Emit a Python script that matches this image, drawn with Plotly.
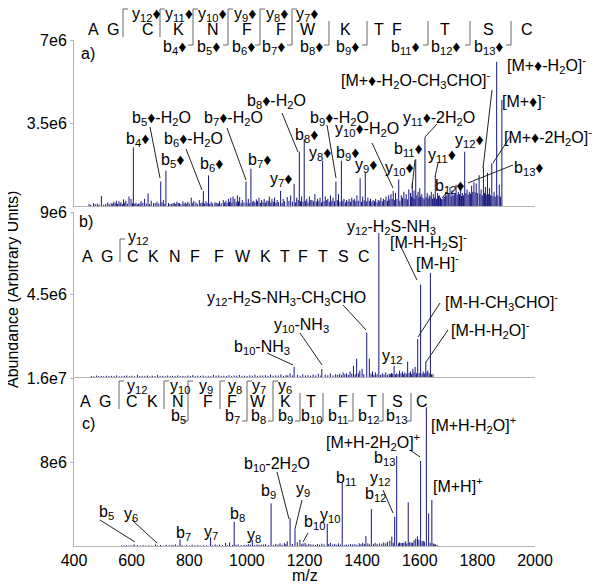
import plotly.graph_objects as go

# ---------------- data (m/z, abundance) ----------------
# panel a) : labelled / prominent peaks
a_mz = [495, 591, 606, 657, 701, 719, 807, 849, 867, 967, 997, 1014, 1117, 1140, 1164,
        1182, 1199, 1263, 1309, 1328, 1393, 1411, 1508, 1527, 1574, 1586, 1618, 1654,
        1676, 1756, 1806, 1821, 1835, 1850, 1867, 1885]
a_int = [0.42e6, 0.40e6, 2.47e6, 0.53e6, 1.03e6, 1.49e6, 0.35e6, 0.63e6, 1.29e6, 0.45e6,
         1.03e6, 1.57e6, 0.64e6, 0.38e6, 0.93e6, 2.29e6, 2.83e6, 1.91e6, 1.03e6, 1.91e6,
         1.17e6, 1.41e6, 0.63e6, 1.12e6, 0.98e6, 1.97e6, 2.90e6, 1.24e6, 0.30e6, 2.29e6,
         1.30e6, 1.63e6, 1.40e6, 1.80e6, 6.08e6, 4.47e6]
# panel a) : minor peaks
a_minor_mz = [452, 468, 481, 503, 517, 529, 538, 547, 556, 563, 572, 580, 598, 615, 624, 633,
              645, 668, 676, 688, 710, 728, 739, 748, 757, 766, 778, 786, 795, 816, 823, 835,
              858, 876, 889, 897, 905, 918, 927, 936, 944, 952, 958, 975, 984, 1005, 1024,
              1033, 1042, 1051, 1060, 1069, 1078, 1087, 1096, 1105, 1126, 1152, 1173, 1190,
              1208, 1217, 1226, 1236, 1245, 1254, 1272, 1281, 1290, 1299, 1318, 1337, 1346,
              1355, 1364, 1373, 1382, 1402, 1420, 1429, 1438, 1447, 1456, 1465, 1474, 1483,
              1492, 1500, 1516, 1536, 1545, 1553, 1562, 1568, 1580, 1594, 1600, 1607, 1626,
              1633, 1640, 1647, 1662, 1668, 1684, 1690, 1698, 1705, 1712, 1720, 1726, 1734,
              1742, 1748, 1764, 1772, 1780, 1788, 1796, 1813, 1828, 1842, 1858, 1876]
a_minor_int = [0.08e6, 0.12e6, 0.10e6, 0.06e6, 0.15e6, 0.12e6, 0.18e6, 0.22e6, 0.20e6, 0.16e6,
               0.28e6, 0.22e6, 0.30e6, 0.14e6, 0.10e6, 0.20e6, 0.30e6, 0.22e6, 0.12e6, 0.18e6,
               0.25e6, 0.12e6, 0.10e6, 0.14e6, 0.18e6, 0.12e6, 0.20e6, 0.15e6, 0.18e6, 0.22e6,
               0.15e6, 0.25e6, 0.20e6, 0.18e6, 0.15e6, 0.12e6, 0.20e6, 0.25e6, 0.22e6, 0.30e6,
               0.35e6, 0.40e6, 0.30e6, 0.38e6, 0.25e6, 0.30e6, 0.22e6, 0.28e6, 0.35e6, 0.25e6,
               0.30e6, 0.22e6, 0.40e6, 0.30e6, 0.35e6, 0.25e6, 0.30e6, 0.45e6, 0.35e6, 0.40e6,
               0.30e6, 0.40e6, 0.25e6, 0.50e6, 0.30e6, 0.35e6, 0.40e6, 0.30e6, 0.45e6, 0.35e6,
               0.50e6, 0.30e6, 0.25e6, 0.30e6, 0.35e6, 0.30e6, 0.45e6, 0.40e6, 0.35e6, 0.30e6,
               0.25e6, 0.30e6, 0.25e6, 0.35e6, 0.30e6, 0.40e6, 0.45e6, 0.50e6, 0.55e6, 0.45e6,
               0.60e6, 0.50e6, 0.70e6, 0.55e6, 0.65e6, 0.60e6, 0.75e6, 0.50e6, 0.55e6, 0.45e6,
               0.60e6, 0.50e6, 0.55e6, 0.45e6, 0.40e6, 0.60e6, 0.55e6, 0.80e6, 0.65e6, 0.50e6,
               0.90e6, 0.60e6, 0.75e6, 0.55e6, 0.70e6, 0.60e6, 0.85e6, 1.00e6, 0.95e6, 0.70e6,
               0.80e6, 0.75e6, 0.60e6, 0.90e6]
# panel a) : baseline clutter
a_floor_mz = [458, 474, 487, 510, 522, 533, 543, 551, 560, 568,
              576, 585, 603, 611, 620, 629, 639, 651, 662, 682,
              694, 705, 715, 733, 744, 753, 762, 771, 782, 791,
              800, 812, 828, 840, 845, 853, 862, 871, 881, 893,
              901, 911, 922, 931, 940, 948, 963, 971, 980, 990,
              1000, 1010, 1019, 1028, 1037, 1047, 1056, 1065, 1074, 1083,
              1092, 1101, 1110, 1122, 1131, 1146, 1158, 1169, 1178, 1186,
              1195, 1204, 1212, 1222, 1231, 1241, 1250, 1259, 1268, 1277,
              1286, 1295, 1304, 1314, 1323, 1333, 1342, 1351, 1360, 1369,
              1378, 1387, 1398, 1407, 1416, 1425, 1434, 1443, 1452, 1461,
              1470, 1479, 1488, 1496, 1504, 1512, 1521, 1531, 1540, 1549,
              1558, 1571, 1577, 1583, 1590, 1597, 1603, 1611, 1615, 1622,
              1629, 1636, 1644, 1651, 1658, 1665, 1672, 1680, 1687, 1694,
              1701, 1709, 1716, 1723, 1730, 1738, 1745, 1752, 1760, 1768,
              1776, 1784, 1792, 1800, 1809, 1817, 1825, 1831, 1839, 1846,
              1854, 1862, 1871, 1880]
a_floor_int = [0.05e6, 0.07e6, 0.06e6, 0.09e6, 0.08e6, 0.10e6, 0.12e6, 0.09e6, 0.11e6, 0.08e6,
               0.14e6, 0.10e6, 0.12e6, 0.09e6, 0.07e6, 0.11e6, 0.13e6, 0.10e6, 0.08e6, 0.12e6,
               0.10e6, 0.15e6, 0.09e6, 0.08e6, 0.11e6, 0.09e6, 0.12e6, 0.08e6, 0.10e6, 0.09e6,
               0.11e6, 0.13e6, 0.09e6, 0.12e6, 0.15e6, 0.10e6, 0.13e6, 0.09e6, 0.11e6, 0.14e6,
               0.10e6, 0.12e6, 0.15e6, 0.13e6, 0.18e6, 0.14e6, 0.16e6, 0.20e6, 0.12e6, 0.15e6,
               0.14e6, 0.12e6, 0.18e6, 0.15e6, 0.20e6, 0.13e6, 0.16e6, 0.14e6, 0.22e6, 0.15e6,
               0.18e6, 0.14e6, 0.16e6, 0.12e6, 0.20e6, 0.22e6, 0.18e6, 0.15e6, 0.25e6, 0.20e6,
               0.18e6, 0.22e6, 0.15e6, 0.25e6, 0.20e6, 0.18e6, 0.22e6, 0.15e6, 0.20e6, 0.25e6,
               0.18e6, 0.22e6, 0.20e6, 0.25e6, 0.18e6, 0.22e6, 0.15e6, 0.20e6, 0.18e6, 0.25e6,
               0.20e6, 0.22e6, 0.18e6, 0.24e6, 0.20e6, 0.22e6, 0.18e6, 0.20e6, 0.16e6, 0.22e6,
               0.20e6, 0.25e6, 0.22e6, 0.28e6, 0.30e6, 0.25e6, 0.30e6, 0.22e6, 0.35e6, 0.30e6,
               0.28e6, 0.40e6, 0.35e6, 0.30e6, 0.45e6, 0.35e6, 0.40e6, 0.35e6, 0.30e6, 0.38e6,
               0.32e6, 0.40e6, 0.30e6, 0.35e6, 0.30e6, 0.42e6, 0.35e6, 0.30e6, 0.38e6, 0.45e6,
               0.50e6, 0.40e6, 0.45e6, 0.55e6, 0.48e6, 0.50e6, 0.42e6, 0.45e6, 0.55e6, 0.48e6,
               0.52e6, 0.60e6, 0.58e6, 0.55e6, 0.50e6, 0.45e6, 0.55e6, 0.48e6, 0.50e6, 0.45e6,
               0.42e6, 0.40e6, 0.45e6, 0.40e6]

# panel b)
b_mz = [1164, 1260, 1370, 1381, 1416, 1425, 1458, 1511, 1558, 1593, 1603, 1621, 1637]
b_int = [0.56e6, 0.43e6, 0.60e6, 1.00e6, 2.42e6, 1.00e6, 7.85e6, 0.61e6, 0.83e6, 2.06e6,
         5.04e6, 0.83e6, 5.68e6]
b_minor_mz = [460, 478, 495, 512, 530, 548, 566, 583, 601, 620, 637, 655, 672, 690, 708, 725,
              742, 760, 778, 795, 812, 830, 848, 866, 884, 902, 920, 938, 956, 974, 992, 1010,
              1028, 1046, 1064, 1082, 1100, 1118, 1136, 1150, 1176, 1194, 1212, 1230, 1248,
              1272, 1290, 1308, 1322, 1334, 1346, 1358, 1392, 1400, 1436, 1446, 1470, 1482,
              1494, 1502, 1520, 1530, 1540, 1548, 1568, 1576, 1584, 1612, 1628, 1646]
b_minor_int = [0.06e6, 0.08e6, 0.05e6, 0.07e6, 0.06e6, 0.09e6, 0.06e6, 0.08e6, 0.07e6, 0.12e6,
               0.06e6, 0.08e6, 0.07e6, 0.10e6, 0.06e6, 0.08e6, 0.07e6, 0.09e6, 0.06e6, 0.08e6,
               0.10e6, 0.07e6, 0.08e6, 0.06e6, 0.12e6, 0.09e6, 0.07e6, 0.10e6, 0.08e6, 0.11e6,
               0.07e6, 0.09e6, 0.12e6, 0.08e6, 0.10e6, 0.13e6, 0.09e6, 0.14e6, 0.10e6, 0.20e6,
               0.12e6, 0.15e6, 0.10e6, 0.14e6, 0.18e6, 0.12e6, 0.20e6, 0.15e6, 0.18e6, 0.25e6,
               0.20e6, 0.30e6, 0.35e6, 0.45e6, 0.30e6, 0.25e6, 0.20e6, 0.25e6, 0.18e6, 0.22e6,
               0.20e6, 0.35e6, 0.30e6, 0.25e6, 0.30e6, 0.45e6, 0.55e6, 0.30e6, 0.35e6, 0.15e6]
b_floor_mz = [469, 486, 503, 521, 539, 557, 575, 592, 610, 628,
              646, 664, 681, 699, 717, 734, 751, 769, 786, 804,
              821, 839, 857, 875, 893, 911, 929, 947, 965, 983,
              1001, 1019, 1037, 1055, 1073, 1091, 1109, 1127, 1142, 1158,
              1185, 1203, 1221, 1239, 1257, 1281, 1299, 1315, 1328, 1340,
              1352, 1364, 1376, 1387, 1406, 1431, 1441, 1452, 1464, 1476,
              1488, 1498, 1506, 1516, 1525, 1535, 1544, 1553, 1563, 1572,
              1580, 1589, 1598, 1608, 1616, 1625, 1633, 1641]
b_floor_int = [0.04e6, 0.05e6, 0.04e6, 0.06e6, 0.05e6, 0.04e6, 0.06e6, 0.05e6, 0.04e6, 0.05e6,
               0.06e6, 0.04e6, 0.05e6, 0.06e6, 0.04e6, 0.05e6, 0.06e6, 0.05e6, 0.04e6, 0.06e6,
               0.05e6, 0.06e6, 0.04e6, 0.05e6, 0.07e6, 0.05e6, 0.06e6, 0.05e6, 0.07e6, 0.06e6,
               0.05e6, 0.07e6, 0.06e6, 0.08e6, 0.06e6, 0.07e6, 0.08e6, 0.06e6, 0.09e6, 0.08e6,
               0.07e6, 0.08e6, 0.07e6, 0.09e6, 0.08e6, 0.10e6, 0.08e6, 0.12e6, 0.10e6, 0.15e6,
               0.12e6, 0.18e6, 0.15e6, 0.20e6, 0.15e6, 0.18e6, 0.12e6, 0.15e6, 0.12e6, 0.14e6,
               0.12e6, 0.15e6, 0.18e6, 0.14e6, 0.16e6, 0.20e6, 0.15e6, 0.18e6, 0.22e6, 0.16e6,
               0.25e6, 0.20e6, 0.22e6, 0.18e6, 0.20e6, 0.25e6, 0.20e6, 0.15e6]

# panel c)
c_mz = [608, 683, 768, 874, 956, 1019, 1084, 1150, 1167, 1184, 1202, 1279, 1331, 1413, 1432,
        1503, 1513, 1520, 1560, 1603, 1623, 1631, 1642]
c_int = [0.15e6, 0.15e6, 0.64e6, 0.83e6, 2.31e6, 0.57e6, 4.06e6, 2.64e6, 1.59e6, 0.60e6,
         0.30e6, 2.10e6, 6.03e6, 0.95e6, 3.52e6, 0.90e6, 2.79e6, 8.57e6, 4.16e6, 8.10e6,
         13.2e6, 3.10e6, 4.38e6]
c_minor_mz = [565, 582, 598, 620, 640, 660, 700, 720, 740, 752, 790, 810, 830, 850, 890, 905,
              926, 940, 970, 990, 1005, 1035, 1050, 1065, 1100, 1115, 1130, 1140, 1175, 1195,
              1215, 1230, 1245, 1260, 1290, 1305, 1318, 1345, 1360, 1375, 1390, 1402, 1420,
              1445, 1460, 1475, 1488, 1496, 1530, 1540, 1550, 1570, 1580, 1586, 1592, 1597,
              1612, 1650, 1660]
c_minor_int = [0.05e6, 0.08e6, 0.06e6, 0.10e6, 0.08e6, 0.07e6, 0.10e6, 0.12e6, 0.09e6, 0.15e6,
               0.10e6, 0.12e6, 0.10e6, 0.08e6, 0.15e6, 0.12e6, 0.30e6, 0.35e6, 0.15e6, 0.12e6,
               0.18e6, 0.15e6, 0.12e6, 0.20e6, 0.20e6, 0.25e6, 0.30e6, 0.45e6, 0.35e6, 0.25e6,
               0.20e6, 0.15e6, 0.18e6, 0.22e6, 0.30e6, 0.20e6, 0.25e6, 0.15e6, 0.20e6, 0.18e6,
               0.25e6, 0.30e6, 0.25e6, 0.30e6, 0.25e6, 0.35e6, 0.40e6, 0.50e6, 0.35e6, 0.30e6,
               0.45e6, 0.35e6, 0.55e6, 0.70e6, 0.90e6, 0.60e6, 0.50e6, 0.20e6, 0.10e6]
c_floor_mz = [574, 590, 610, 630, 650, 670, 690, 710, 730, 745,
              760, 775, 800, 820, 840, 860, 880, 897, 915, 933,
              950, 962, 980, 998, 1012, 1027, 1042, 1058, 1075, 1092,
              1108, 1122, 1135, 1158, 1190, 1208, 1222, 1238, 1252, 1268,
              1284, 1298, 1312, 1325, 1338, 1352, 1367, 1382, 1396, 1408,
              1426, 1439, 1452, 1468, 1482, 1508, 1526, 1535, 1545, 1555,
              1565, 1575, 1608, 1616, 1636, 1647, 1655]
c_floor_int = [0.04e6, 0.05e6, 0.04e6, 0.06e6, 0.05e6, 0.04e6, 0.06e6, 0.05e6, 0.07e6, 0.06e6,
               0.05e6, 0.08e6, 0.06e6, 0.07e6, 0.05e6, 0.06e6, 0.08e6, 0.07e6, 0.09e6, 0.08e6,
               0.10e6, 0.12e6, 0.08e6, 0.10e6, 0.12e6, 0.09e6, 0.11e6, 0.13e6, 0.10e6, 0.12e6,
               0.15e6, 0.12e6, 0.18e6, 0.20e6, 0.15e6, 0.12e6, 0.15e6, 0.10e6, 0.12e6, 0.15e6,
               0.18e6, 0.15e6, 0.12e6, 0.14e6, 0.10e6, 0.12e6, 0.15e6, 0.12e6, 0.18e6, 0.20e6,
               0.15e6, 0.18e6, 0.20e6, 0.22e6, 0.25e6, 0.30e6, 0.25e6, 0.28e6, 0.30e6, 0.25e6,
               0.35e6, 0.30e6, 0.45e6, 0.40e6, 0.30e6, 0.25e6, 0.15e6]

x_ticks = [400, 600, 800, 1000, 1200, 1400, 1600, 1800, 2000]
a_yticks, a_yticktext = [3.5e6, 7e6], ["3.5e6", "7e6"]
b_yticks, b_yticktext = [4.5e6, 9e6], ["4.5e6", "9e6"]
c_yticks, c_yticktext = [8e6, 1.6e7], ["8e6", "1.6e7"]

# ---------------- layout helpers ----------------
OFF = 8                      # page body margin of the browser
W, H = 600 - OFF, 584 - OFF
L, R, T, B = 74, 535, 40, 546   # plot area in window pixels
FONT = "Liberation Sans, Arial, sans-serif"
FS = 16
PEAK = "#16167e"
AXC = "#b4b4b4"
BRK = "#666666"


def px(x):
    return (x - L) / (R - L)


def py(y):
    return (B - y) / (B - T)


def sticks(mz, inten):
    xs, ys = [], []
    for m, v in zip(mz, inten):
        xs += [m, m, None]
        ys += [0, v, None]
    return xs, ys


fig = go.Figure()
for mzs, ints, xa, ya in [(a_floor_mz + a_minor_mz + a_mz, a_floor_int + a_minor_int + a_int, "x", "y"),
                          (b_floor_mz + b_minor_mz + b_mz, b_floor_int + b_minor_int + b_int, "x2", "y2"),
                          (c_floor_mz + c_minor_mz + c_mz, c_floor_int + c_minor_int + c_int, "x3", "y3")]:
    xs, ys = sticks(mzs, ints)
    fig.add_trace(go.Scatter(x=xs, y=ys, mode="lines", line=dict(color=PEAK, width=1),
                             xaxis=xa, yaxis=ya, hoverinfo="skip", showlegend=False))

ann = []
shapes = []


def text(t, x, y, size=FS, **kw):
    ann.append(dict(text=t, x=px(x), y=py(y), xref="paper", yref="paper", showarrow=False,
                    xanchor="center", yanchor="middle", font=dict(size=size, color="black"), **kw))


def line(x0, y0, x1, y1, color="#222222"):
    shapes.append(dict(type="line", xref="paper", yref="paper", x0=px(x0), y0=py(y0),
                       x1=px(x1), y1=py(y1), line=dict(color=color, width=1)))


D = "♦"

# ---------- sequence a ----------
seq_a = [("A", 93), ("G", 113), ("C", 148), ("K", 178), ("N", 213), ("F", 247), ("F", 281),
         ("W", 308), ("K", 345), ("T", 379), ("F", 397), ("T", 445), ("S", 488), ("C", 527)]
for s, x in seq_a:
    text(s, x, 30)
for n, x in [(12, 146), (11, 179), (10, 212), (9, 245), (8, 277), (7, 307)]:
    text("y<sub>%d</sub>%s" % (n, D), x, 14)
for n, x in [(4, 174), (5, 208), (6, 243), (7, 273), (8, 311), (9, 347), (11, 405), (12, 446), (13, 489)]:
    text("b<sub>%d</sub>%s" % (n, D), x, 47)
for x, top, bot in [(123, 1, 0), (160, 1, 0), (193, 1, 1), (228, 1, 1), (260, 1, 1), (292, 1, 1),
                    (329, 0, 1), (367, 0, 1), (428, 0, 1), (470, 0, 1), (511, 0, 1)]:
    y0 = 9 if top else 21
    y1 = 45 if bot else 37
    line(x, y0, x, y1, BRK)
    if top:
        line(x, y0, x + 5, y0, BRK)
    if bot:
        line(x, y1, x - 5, y1, BRK)

# ---------- sequence b ----------
seq_b = [("A", 87), ("G", 107), ("C", 133), ("K", 153), ("N", 175), ("F", 195), ("F", 219),
         ("W", 243), ("K", 265), ("T", 285), ("F", 303), ("T", 323), ("S", 343), ("C", 364)]
for s, x in seq_b:
    text(s, x, 256)
text("y<sub>12</sub>", 138, 238)
line(120, 239, 120, 262, BRK)
line(120, 239, 125, 239, BRK)

# ---------- sequence c ----------
seq_c = [("A", 85), ("G", 105), ("C", 132), ("K", 152), ("N", 178), ("F", 208), ("F", 232),
         ("W", 258), ("K", 285), ("T", 311), ("F", 343), ("T", 372), ("S", 397), ("C", 422)]
for s, x in seq_c:
    text(s, x, 401)
for n, x in [(12, 137), (10, 180), (9, 206), (8, 235), (7, 259), (6, 285)]:
    text("y<sub>%d</sub>" % n, x, 386)
for n, x in [(5, 178), (7, 232), (8, 258), (9, 285), (10, 311), (11, 338), (12, 368), (13, 396)]:
    text("b<sub>%d</sub>" % n, x, 417)
for x, top, bot in [(119, 1, 0), (164, 1, 0), (188, 1, 1), (220, 1, 0), (247, 1, 1), (273, 1, 1),
                    (300, 0, 1), (323, 0, 1), (353, 0, 1), (383, 0, 1), (411, 0, 1)]:
    y0 = 381 if top else 393
    y1 = 421 if bot else 409
    line(x, y0, x, y1, BRK)
    if top:
        line(x, y0, x + 5, y0, BRK)
    if bot:
        line(x, y1, x - 5, y1, BRK)

# panel tags
text("a)", 88, 54)
text("b)", 86, 221)
text("c)", 88, 423)

# ---------- peak labels a ----------
for t, x, y in [
    ("b<sub>4</sub>" + D, 137, 139),
    ("b<sub>5</sub>" + D + "-H<sub>2</sub>O", 161, 118),
    ("b<sub>5</sub>" + D, 172, 161),
    ("b<sub>6</sub>" + D + "-H<sub>2</sub>O", 193, 139),
    ("b<sub>6</sub>" + D, 211, 164),
    ("b<sub>7</sub>" + D + "-H<sub>2</sub>O", 233, 118),
    ("b<sub>7</sub>" + D, 259, 160),
    ("y<sub>7</sub>" + D, 281, 180),
    ("b<sub>8</sub>" + D + "-H<sub>2</sub>O", 276, 102),
    ("b<sub>8</sub>" + D, 306, 135),
    ("y<sub>8</sub>" + D, 320, 153),
    ("b<sub>9</sub>" + D + "-H<sub>2</sub>O", 339, 118),
    ("b<sub>9</sub>" + D, 347, 153),
    ("y<sub>10</sub>" + D + "-H<sub>2</sub>O", 367, 130),
    ("y<sub>9</sub>" + D, 366, 165),
    ("y<sub>10</sub>" + D, 399, 168),
    ("b<sub>11</sub>" + D, 408, 149),
    ("y<sub>11</sub>" + D + "-2H<sub>2</sub>O", 439, 118),
    ("y<sub>11</sub>" + D, 442, 155),
    ("b<sub>12</sub>" + D, 450, 186),
    ("y<sub>12</sub>" + D, 469, 141),
    ("b<sub>13</sub>" + D, 529, 168),
    ("[M+" + D + "-H<sub>2</sub>O-CH<sub>3</sub>CHO]<sup>-</sup>", 416, 80),
    ("[M+" + D + "-H<sub>2</sub>O]<sup>-</sup>", 546, 65),
    ("[M+" + D + "]<sup>-</sup>", 524, 100),
    ("[M+" + D + "-2H<sub>2</sub>O]<sup>-</sup>", 548, 137),
]:
    text(t, x, y)
for seg in [(150, 127, 160, 178), (186, 149, 202, 190), (227, 128, 246, 180), (282, 113, 298, 152),
            (327, 125, 336, 178), (372, 143, 393, 188), (415, 160, 412, 188), (437, 124, 425, 137),
            (438, 163, 435, 177), (447, 192, 442, 198), (513, 165, 468, 183), (492, 90, 483, 168),
            (510, 137, 493, 163)]:
    line(*seg)

# ---------- peak labels b ----------
for t, x, y in [
    ("y<sub>12</sub>-H<sub>2</sub>S-NH<sub>3</sub>", 391, 227),
    ("[M-H-H<sub>2</sub>S]<sup>-</sup>", 428, 242),
    ("[M-H]<sup>-</sup>", 437, 262),
    ("y<sub>12</sub>-H<sub>2</sub>S-NH<sub>3</sub>-CH<sub>3</sub>CHO", 286, 299),
    ("y<sub>10</sub>-NH<sub>3</sub>", 301, 325),
    ("b<sub>10</sub>-NH<sub>3</sub>", 262, 347),
    ("[M-H-CH<sub>3</sub>CHO]<sup>-</sup>", 501, 302),
    ("[M-H-H<sub>2</sub>O]<sup>-</sup>", 490, 330),
    ("y<sub>12</sub>", 392, 357),
]:
    text(t, x, y)
for seg in [(400, 245, 417, 280), (343, 305, 366, 330), (300, 333, 322, 365), (267, 353, 293, 365),
            (440, 303, 418, 337), (448, 330, 426, 362)]:
    line(*seg)

# ---------- peak labels c ----------
for t, x, y in [
    ("b<sub>5</sub>", 106, 512), ("y<sub>6</sub>", 131, 514), ("b<sub>7</sub>", 183, 533),
    ("y<sub>7</sub>", 211, 532), ("b<sub>8</sub>", 237, 514), ("y<sub>8</sub>", 254, 535),
    ("b<sub>9</sub>", 268, 491), ("b<sub>10</sub>-2H<sub>2</sub>O", 277, 464),
    ("y<sub>9</sub>", 303, 489), ("b<sub>10</sub>", 314, 522), ("y<sub>10</sub>", 330, 515),
    ("b<sub>11</sub>", 346, 478), ("b<sub>12</sub>", 375, 494), ("y<sub>12</sub>", 380, 478),
    ("b<sub>13</sub>", 384, 458),
    ("[M+H-2H<sub>2</sub>O]<sup>+</sup>", 373, 442),
    ("[M+H-H<sub>2</sub>O]<sup>+</sup>", 473, 425),
    ("[M+H]<sup>+</sup>", 458, 485),
]:
    text(t, x, y)
for seg in [(100, 520, 135, 542), (132, 520, 157, 543), (277, 472, 289, 519), (302, 500, 295, 529),
            (308, 533, 303, 542), (383, 490, 393, 513), (410, 450, 420, 457)]:
    line(*seg)

# axis titles
text("Abundance (Arbitrary Units)", 12, 290, textangle=-90)
text("m/z", 305, 575)

# ---------------- axes ----------------
xcommon = dict(range=[400, 2000], showgrid=False, zeroline=False, showline=True, linecolor=AXC,
               linewidth=1, ticks="", tickvals=x_ticks)
ycommon = dict(showgrid=False, zeroline=False, showline=True, linecolor=AXC, linewidth=1,
               ticks="outside", ticklen=3, tickcolor=AXC, tickfont=dict(size=FS, color="black"))

fig.update_layout(
    width=W, height=H,
    margin=dict(l=L - OFF, r=600 - R, t=T - OFF, b=584 - B),
    paper_bgcolor="white", plot_bgcolor="white",
    font=dict(family=FONT, size=FS, color="black"),
    showlegend=False,
    xaxis=dict(**xcommon, anchor="y", domain=[0, 1], showticklabels=False, matches="x3"),
    xaxis2=dict(**xcommon, anchor="y2", domain=[0, 1], showticklabels=False, matches="x3"),
    xaxis3=dict(**xcommon, anchor="y3", domain=[0, 1], tickfont=dict(size=FS, color="black")),
    yaxis=dict(**ycommon, anchor="x", domain=[py(206), 1.0], range=[0, 7e6],
               tickvals=a_yticks, ticktext=a_yticktext),
    yaxis2=dict(**ycommon, anchor="x2", domain=[py(377), py(212)], range=[0, 9e6],
                tickvals=b_yticks, ticktext=b_yticktext),
    yaxis3=dict(**ycommon, anchor="x3", domain=[0, py(378)], range=[0, 1.6e7],
                tickvals=c_yticks, ticktext=c_yticktext),
    annotations=ann,
    shapes=shapes,
)

fig.write_html("out.html")
